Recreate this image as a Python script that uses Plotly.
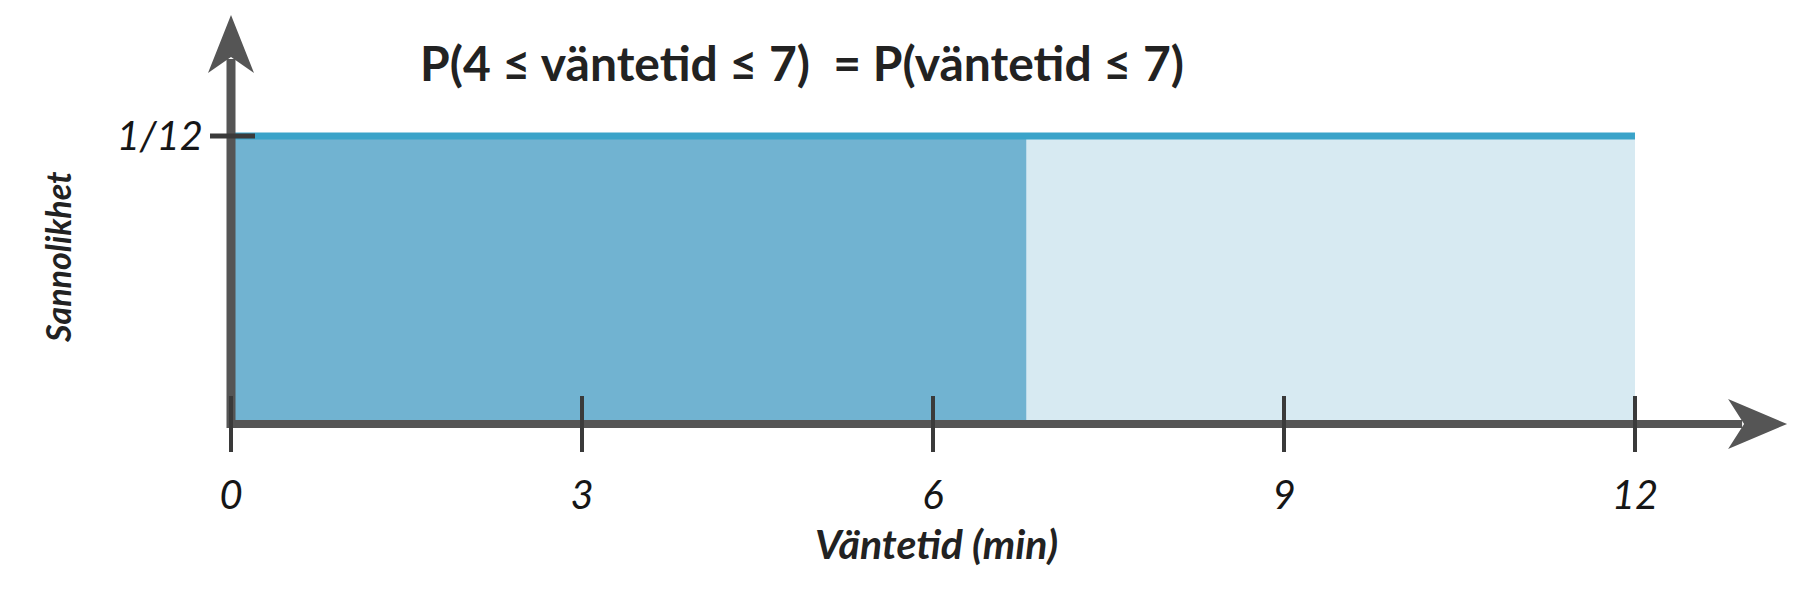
import plotly.graph_objects as go

# ---- data ----
x_edges = [0, 6.8, 12]          # shaded interval edges (min)
density = 1 / 12                 # uniform density on [0, 12]
x_ticks = [0, 3, 6, 9, 12]
x_tick_labels = ["0", "3", "6", "9", "12"]
y_ticks = [1 / 12]
y_tick_labels = ["1/12"]
title_text = "P(4 ≤ väntetid ≤ 7)  = P(väntetid ≤ 7)"
x_title = "Väntetid (min)"
y_title = "Sannolikhet"

# ---- layout geometry ----
W, H = 1784, 576
X0, X1 = -1.906, 13.342
Y0, Y1 = -0.046296, 0.12037
kx = W / (X1 - X0)   # px per x unit
ky = H / (Y1 - Y0)   # px per y unit

def dx(px):
    return px / kx

def dy(px):
    return px / ky

DARK = "#71b3d1"
LIGHT = "#d7eaf2"
TOPLINE = "#3aa3c9"
AXIS = "#555555"
TICK = "#3a3a3a"
TEXT = "#161616"

fig = go.Figure()
fig.add_trace(go.Scatter(x=[x_edges[0], x_edges[1]], y=[density, density], mode="lines",
                         fill="tozeroy", fillcolor=DARK, line=dict(width=0), hoverinfo="skip"))
fig.add_trace(go.Scatter(x=[x_edges[1], x_edges[2]], y=[density, density], mode="lines",
                         fill="tozeroy", fillcolor=LIGHT, line=dict(width=0), hoverinfo="skip"))
fig.add_trace(go.Scatter(x=[x_edges[0], x_edges[2]], y=[density, density], mode="lines",
                         line=dict(color=TOPLINE, width=7), hoverinfo="skip"))

shapes = []
x_tip = 13.3
y_tip = 0.11834
shapes.append(dict(type="line", xref="x", yref="y", x0=-dx(4), x1=x_tip - dx(45), y0=0, y1=0,
                   line=dict(color=AXIS, width=8), layer="above"))
shapes.append(dict(type="line", xref="x", yref="y", x0=0, x1=0, y0=-dy(4), y1=y_tip - dy(44),
                   line=dict(color=AXIS, width=9), layer="above"))
shapes.append(dict(type="path", xref="x", yref="y", layer="above", line=dict(width=0), fillcolor=AXIS,
                   path=(f"M {x_tip},0 L {x_tip - dx(59)},{dy(25)} L {x_tip - dx(43)},0 "
                         f"L {x_tip - dx(59)},{-dy(25)} Z")))
shapes.append(dict(type="path", xref="x", yref="y", layer="above", line=dict(width=0), fillcolor=AXIS,
                   path=(f"M 0,{y_tip} L {dx(23)},{y_tip - dy(58)} L 0,{y_tip - dy(42)} "
                         f"L {-dx(23)},{y_tip - dy(58)} Z")))
for t in x_ticks:
    shapes.append(dict(type="line", xref="x", yref="y", x0=t, x1=t, y0=-dy(28), y1=dy(28),
                       line=dict(color=TICK, width=4), layer="above"))
for t in y_ticks:
    shapes.append(dict(type="line", xref="x", yref="y", x0=-dx(21), x1=dx(24), y0=t, y1=t,
                       line=dict(color=TICK, width=5), layer="above"))

fig.update_layout(
    width=W, height=H, autosize=False,
    margin=dict(l=0, r=0, t=0, b=0, pad=0),
    paper_bgcolor="white", plot_bgcolor="white",
    showlegend=False,
    shapes=shapes,
    title=dict(text=title_text, x=794 / W, xanchor="center", y=1 - 56 / H, yanchor="middle",
               font=dict(family="Lato", size=48, color="#222222", weight="bold")),
    xaxis=dict(range=[X0, X1], tickvals=x_ticks, ticktext=x_tick_labels, showgrid=False,
               zeroline=False, showline=False, ticks="", anchor="free", position=(H - 416) / H,
               ticklabelstandoff=44,
               tickfont=dict(family="Lato", size=40, color=TEXT, style="italic")),
    yaxis=dict(range=[Y0, Y1], tickvals=y_ticks, ticktext=y_tick_labels, showgrid=False,
               zeroline=False, showline=False, ticks="", anchor="free", position=223 / W,
               ticklabelstandoff=28,
               tickfont=dict(family="Lato", size=40, color=TEXT, style="italic")),
    annotations=[
        dict(text=x_title, xref="x", yref="paper", x=6.03, y=1 - 535 / H, xanchor="center",
             yanchor="middle", showarrow=False,
             font=dict(family="Lato", size=41, color="#222222", weight="bold", style="italic")),
        dict(text=y_title, xref="paper", yref="y", x=49 / W, y=(416 - 249) / ky, xanchor="center",
             yanchor="middle", showarrow=False, textangle=-90,
             font=dict(family="Lato", size=34, color="#222222", weight="bold", style="italic")),
    ],
)

fig.write_html("out.html")
